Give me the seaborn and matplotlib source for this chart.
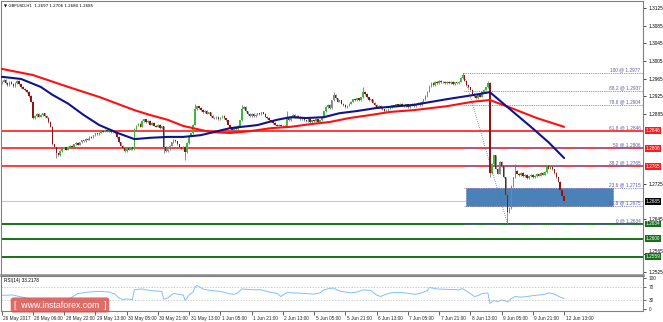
import numpy as np
import pandas as pd
import matplotlib
matplotlib.use("Agg")
import matplotlib.pyplot as plt
import matplotlib.transforms as mtransforms
from matplotlib.patches import Rectangle
import seaborn as sns

# ---------------- data ----------------
title_text = "\u25bc GBPUSD,H1  1.2697 1.2706 1.2680 1.2685"
first_open = 1.2955
closes = [
    1.2958, 1.2962, 1.2955, 1.2950, 1.2957, 1.2953, 1.2948, 1.2955, 1.2960, 1.2952,
    1.2946, 1.2942, 1.2938, 1.2934, 1.2925, 1.2912, 1.2875, 1.2880, 1.2885, 1.2878,
    1.2882, 1.2886, 1.2880, 1.2876, 1.2866, 1.2855, 1.2815, 1.2808, 1.2795, 1.2790,
    1.2800, 1.2805, 1.2808, 1.2803, 1.2810, 1.2812, 1.2808, 1.2815, 1.2818, 1.2814,
    1.2820, 1.2824, 1.2822, 1.2828, 1.2826, 1.2832, 1.2830, 1.2836, 1.2840, 1.2838,
    1.2842, 1.2846, 1.2844, 1.2848, 1.2845, 1.2847, 1.2843, 1.2845, 1.2840, 1.2832,
    1.2820, 1.2812, 1.2806, 1.2800, 1.2806, 1.2803, 1.2808, 1.2804, 1.2850, 1.2858,
    1.2862, 1.2855, 1.2868, 1.2872, 1.2865, 1.2868, 1.2860, 1.2864, 1.2858, 1.2855,
    1.2860, 1.2852, 1.2856, 1.2810, 1.2800, 1.2804, 1.2812, 1.2820, 1.2826, 1.2822,
    1.2815, 1.2808, 1.2805, 1.2810, 1.2798, 1.2818, 1.2835, 1.2840, 1.2860, 1.2895,
    1.2902, 1.2898, 1.2893, 1.2888, 1.2891, 1.2885, 1.2888, 1.2880, 1.2876, 1.2874,
    1.2878, 1.2872, 1.2876, 1.2880, 1.2874, 1.2870, 1.2860, 1.2852, 1.2848, 1.2855,
    1.2850, 1.2858, 1.2870, 1.2896, 1.2900, 1.2890, 1.2884, 1.2880, 1.2884, 1.2880,
    1.2883, 1.2886, 1.2884, 1.2888, 1.2885, 1.2878, 1.2875, 1.2870, 1.2868, 1.2864,
    1.2860, 1.2858, 1.2860, 1.2856, 1.2858, 1.2855, 1.2875, 1.2870, 1.2878, 1.2882,
    1.2876, 1.2880, 1.2878, 1.2872, 1.2874, 1.2870, 1.2868, 1.2872, 1.2866, 1.2870,
    1.2868, 1.2872, 1.2866, 1.2870, 1.2876, 1.2890, 1.2900, 1.2905, 1.2898, 1.2915,
    1.2928, 1.2920, 1.2912, 1.2915, 1.2908, 1.2905, 1.2900, 1.2903, 1.2908, 1.2912,
    1.2918, 1.2915, 1.2920, 1.2916, 1.2922, 1.2935, 1.2930, 1.2922, 1.2915, 1.2918,
    1.2910, 1.2905, 1.2900, 1.2903, 1.2898, 1.2895, 1.2890, 1.2893, 1.2896, 1.2900,
    1.2904, 1.2902, 1.2906, 1.2903, 1.2907, 1.2904, 1.2902, 1.2906, 1.2900, 1.2904,
    1.2908, 1.2902, 1.2906, 1.2910, 1.2904, 1.2912, 1.2918, 1.2925, 1.2935, 1.2948,
    1.2955, 1.2950, 1.2958, 1.2955, 1.2960, 1.2956, 1.2958, 1.2954, 1.2957, 1.2955,
    1.2958, 1.2952, 1.2956, 1.2954, 1.2958, 1.2966, 1.2972, 1.2960, 1.2950, 1.2945,
    1.2940, 1.2930, 1.2925, 1.2920, 1.2928, 1.2924, 1.2935, 1.2940, 1.2945, 1.2955,
    1.2750, 1.2770, 1.2790, 1.2760, 1.2748, 1.2775, 1.2765, 1.2740, 1.2700, 1.2660,
    1.2670, 1.2720, 1.2740, 1.2755, 1.2748, 1.2745, 1.2750, 1.2742, 1.2745, 1.2738,
    1.2742, 1.2746, 1.2740, 1.2743, 1.2748, 1.2744, 1.2750, 1.2746, 1.2752, 1.2765,
    1.2760, 1.2764, 1.2758, 1.2750, 1.2740, 1.2730, 1.2712, 1.2697, 1.2685,
]
extra_high = {99: 1.2908, 123: 1.2905, 146: 1.2890, 170: 1.2934, 185: 1.2946,
              236: 1.2977, 249: 1.2960, 263: 1.2770, 279: 1.2768, 288: 1.2706}
extra_low = {28: 1.2785, 83: 1.2795, 94: 1.2780, 250: 1.2740, 259: 1.2634, 288: 1.2680}

blue_ma_idx = [0, 10, 20, 26, 34, 42, 50, 60, 68, 76, 85, 93, 102, 117, 131, 141, 148,
               156, 165, 173, 182, 192, 211, 228, 241, 250, 259, 271, 280, 288]
blue_ma_val = [1.2969, 1.2964, 1.2946, 1.2928, 1.2908, 1.2882, 1.2859, 1.2840, 1.2827,
               1.2830, 1.2832, 1.2832, 1.2836, 1.2852, 1.2859, 1.2871, 1.2877, 1.2875,
               1.2877, 1.2886, 1.2891, 1.2898, 1.2905, 1.2918, 1.2927, 1.2934, 1.2900,
               1.2855, 1.2820, 1.2784]
red_ma_idx = [0, 16, 34, 50, 68, 76, 85, 93, 102, 107, 117, 127, 138, 148, 158, 168, 178,
              189, 199, 211, 228, 241, 250, 262, 274, 288]
red_ma_val = [1.2987, 1.2973, 1.2946, 1.2923, 1.2893, 1.2882, 1.2871, 1.2857, 1.2848,
              1.2843, 1.2841, 1.2845, 1.2852, 1.2855, 1.2861, 1.2866, 1.2875, 1.2882,
              1.2889, 1.2893, 1.2902, 1.2912, 1.2916, 1.2896, 1.2875, 1.2855]

rsi_idx = [0, 6, 9, 13, 16, 20, 26, 29, 34, 39, 45, 50, 55, 58, 60, 62, 64, 67, 68, 72,
           76, 80, 82, 83, 85, 88, 91, 93, 94, 96, 98, 99, 100, 103, 107, 112, 116, 119, 121, 123,
           127, 133, 137, 141, 143, 146, 150, 155, 160, 163, 165, 168, 170, 173, 176, 179, 182, 185, 189, 192,
           194, 197, 200, 205, 209, 212, 215, 218, 219, 223, 227, 231, 234, 236, 238, 240, 242, 244, 246, 249,
           250, 252, 254, 256, 258, 259, 261, 263, 266, 269, 272, 275, 278, 280, 282, 284, 286, 288]
rsi_val = [44, 45, 40, 35, 25, 33, 22, 20, 30, 50, 55, 57, 55, 48, 35, 30, 32, 30, 63, 65,
           60, 58, 57, 31, 35, 50, 47, 45, 27, 45, 55, 70, 77, 65, 60, 57, 50, 47, 52, 65,
           63, 62, 55, 50, 40, 53, 52, 50, 48, 52, 62, 67, 68, 58, 55, 52, 55, 62, 60, 45,
           40, 48, 53, 53, 50, 47, 52, 60, 70, 65, 64, 63, 62, 66, 58, 50, 40, 43, 50, 52,
           17, 27, 23, 28, 25, 22, 33, 40, 38, 40, 43, 45, 47, 52, 50, 45, 38, 33.2]
rsi_label = "RSI(14) 33.2178"

fib_pct = ["100", "88.2", "78.6", "61.8", "50", "38.2", "23.6", "11.8", "0"]
fib_prices = [1.2977, 1.2937, 1.2904, 1.2846, 1.2806, 1.2765, 1.2715, 1.2675, 1.2634]
fib_start_bar = 237
fib_trend_bars = [236.5, 259]
fib_trend_prices = [1.2977, 1.2634]

red_levels = [1.2846, 1.2806, 1.2765]
green_levels = [1.2634, 1.2600, 1.2559]
current_price = 1.2685
zone_bars = [238, 313]
zone_prices = [1.2675, 1.2715]

main_yticks = [1.3125, 1.3085, 1.3045, 1.3005, 1.2965, 1.2925, 1.2885, 1.2725, 1.2645, 1.2565, 1.2525]
rsi_yticks = [100, 70, 30, 0]
x_tick_idx = list(range(0, 289, 16))
x_tick_labels = ["26 May 2017", "28 May 06:00", "28 May 22:00", "29 May 13:00", "30 May 05:00",
                 "30 May 21:00", "31 May 13:00", "1 Jun 05:00", "1 Jun 21:00", "2 Jun 13:00",
                 "5 Jun 05:00", "5 Jun 21:00", "6 Jun 13:00", "7 Jun 05:00", "7 Jun 21:00",
                 "8 Jun 13:00", "9 Jun 05:00", "9 Jun 21:00", "12 Jun 13:00"]
watermark = "[  www.instaforex.com  ]"

# ---------------- style ----------------
sns.set_style("white")
plt.rcParams['font.family'] = ['Liberation Sans', 'DejaVu Sans']
SMALL = 3.4

W, H = 663, 322
fig = plt.figure(figsize=(W / 100, H / 100), dpi=100)
fig.patch.set_facecolor("white")

def fx(px):
    return px / W

def fy(py):
    return 1 - py / H

ax = fig.add_axes([fx(1), fy(275), fx(643) - fx(1), fy(1) - fy(275)])
ax2 = fig.add_axes([fx(1), fy(311), fx(643) - fx(1), fy(276) - fy(311)], sharex=ax)

XLIM = (-0.31, 328.4)
ax.set_xlim(*XLIM)
ax.set_ylim(1.25175, 1.31416)
ax2.set_ylim(-8, 108)

# ---------------- candles ----------------
c = np.array(closes)
n = len(c)
x = np.arange(n)
o = np.r_[first_open, c[:-1]]
wick = 0.00015
hi = np.maximum(o, c) + wick
lo = np.minimum(o, c) - wick
for k, v in extra_high.items():
    hi[k] = max(hi[k], v) if k != n - 1 else v
for k, v in extra_low.items():
    lo[k] = min(lo[k], v) if k != n - 1 else v

df = pd.DataFrame({"bar": x, "open": o, "close": c, "high": hi, "low": lo})
bull = df["close"] >= df["open"]

# background zone (rectangle)
ax.add_patch(Rectangle((zone_bars[0], zone_prices[0]), zone_bars[1] - zone_bars[0],
                       zone_prices[1] - zone_prices[0], facecolor="#4a81b6",
                       edgecolor="#6a6aa8", linestyle=(0, (1, 1)), lw=0.6, zorder=1,
                       clip_on=False))

# current price line
ax.axhline(current_price, color="#c8c8c8", lw=0.8, zorder=0.5)

# horizontal support / resistance
for lv in red_levels:
    ax.axhline(lv, color="#ff1a1a", lw=1.2, zorder=2)
for lv in green_levels:
    ax.axhline(lv, color="#16701a", lw=1.4, zorder=2)

# fib lines
for p in fib_prices:
    ax.plot([fib_start_bar, XLIM[1]], [p, p], color="#6a6ab0", lw=0.6,
            linestyle=(0, (1, 1.2)), zorder=2.5)
sns.lineplot(x=fib_trend_bars, y=fib_trend_prices, ax=ax, color="#6a6ab0", lw=0.6,
             linestyle=(0, (1, 1.5)), zorder=2.5)

# candles
ax.vlines(df["bar"], df["low"], df["high"], color="#6f6f6f", lw=0.55, zorder=3)
body_bottom = np.minimum(df["open"], df["close"])
body_h = np.maximum(np.abs(df["close"] - df["open"]), 0.00004)
ax.bar(df["bar"][bull], body_h[bull], bottom=body_bottom[bull], width=0.75,
       color="#3cb83c", linewidth=0, zorder=4)
ax.bar(df["bar"][~bull], body_h[~bull], bottom=body_bottom[~bull], width=0.75,
       color="#8e1515", linewidth=0, zorder=4)

# moving averages
sns.lineplot(x=red_ma_idx, y=red_ma_val, ax=ax, color="#ff1010", lw=1.5, zorder=5)
sns.lineplot(x=blue_ma_idx, y=blue_ma_val, ax=ax, color="#10148c", lw=1.5, zorder=6)

# fib labels
btr = mtransforms.blended_transform_factory(ax.transAxes, ax.transData)
for pct, p in zip(fib_pct, fib_prices):
    ax.text(0.996, p + 0.00012, f"{pct} @ {p:.4f}", transform=btr, ha="right", va="bottom",
            fontsize=SMALL, color="#5a5aa8", zorder=7)

# right-side price tags
def tag(price, fc):
    ax.text(1.004, price, f"{price:.4f}", transform=btr, ha="left", va="center",
            fontsize=SMALL, color="white", zorder=10, clip_on=False,
            bbox=dict(boxstyle="square,pad=0.18", fc=fc, ec="none"))

for lv in red_levels:
    tag(lv, "#ff1a1a")
for lv in green_levels:
    tag(lv, "#16701a")
tag(current_price, "#000000")

# axes styling
ax.set_yticks(main_yticks)
ax.set_yticklabels([f"{v:.4f}" for v in main_yticks])
ax.tick_params(axis="y", right=True, left=False, labelright=True, labelleft=False,
               length=2.5, width=0.5, pad=1.5, labelsize=SMALL, colors="#000000")
ax.tick_params(axis="x", bottom=False, labelbottom=False)
ax.set_xlabel("")
ax.set_ylabel("")
for s in ax.spines.values():
    s.set_color("#808080")
    s.set_linewidth(0.8)
ax.spines["bottom"].set_linewidth(1.8)
ax.spines["bottom"].set_color("#8a8a8a")

# shift the 1.2565 label slightly up so it clears the 1.2559 tag
for lab in ax.get_yticklabels():
    if lab.get_text() == "1.2565":
        lab.set_transform(lab.get_transform() +
                          mtransforms.ScaledTranslation(0, 2.8 / 100, fig.dpi_scale_trans))

ax.text(0.004, 0.992, title_text, transform=ax.transAxes, ha="left", va="top",
        fontsize=2.9, color="black", family=['DejaVu Sans'])

# ---------------- RSI ----------------
sns.lineplot(x=rsi_idx, y=rsi_val, ax=ax2, color="#80bfff", lw=0.7)
for lv in (70, 30):
    ax2.axhline(lv, color="#b8b8b8", lw=0.5, linestyle=(0, (2, 2)))
ax2.set_yticks(rsi_yticks)
ax2.set_yticklabels([str(v) for v in rsi_yticks])
ax2.tick_params(axis="y", right=True, left=False, labelright=True, labelleft=False,
                length=2.5, width=0.5, pad=1.5, labelsize=SMALL)
ax2.set_xticks(x_tick_idx)
ax2.set_xticklabels(x_tick_labels)
ax2.tick_params(axis="x", bottom=True, length=3, width=0.5, pad=0.8, labelsize=SMALL,
                direction="out")
shift = mtransforms.ScaledTranslation(1.5 / 100, 0, fig.dpi_scale_trans)
for lab in ax2.get_xticklabels():
    lab.set_horizontalalignment("left")
    lab.set_transform(lab.get_transform() + shift)
ax2.set_xlim(*XLIM)
ax2.set_xlabel("")
ax2.set_ylabel("")
for s in ax2.spines.values():
    s.set_color("#808080")
    s.set_linewidth(0.8)
ax2.text(0.005, 0.93, rsi_label, transform=ax2.transAxes, ha="left", va="top",
         fontsize=SMALL, color="black")

# watermark
fig.text(fx(60), fy(305), watermark, ha="center", va="center", fontsize=6.3,
         color="white", zorder=20,
         bbox=dict(boxstyle="round,pad=0.35,rounding_size=0.3", fc="#d9534f",
                   ec="none", alpha=0.85))

fig.savefig("out.png", dpi=100, facecolor="white")
